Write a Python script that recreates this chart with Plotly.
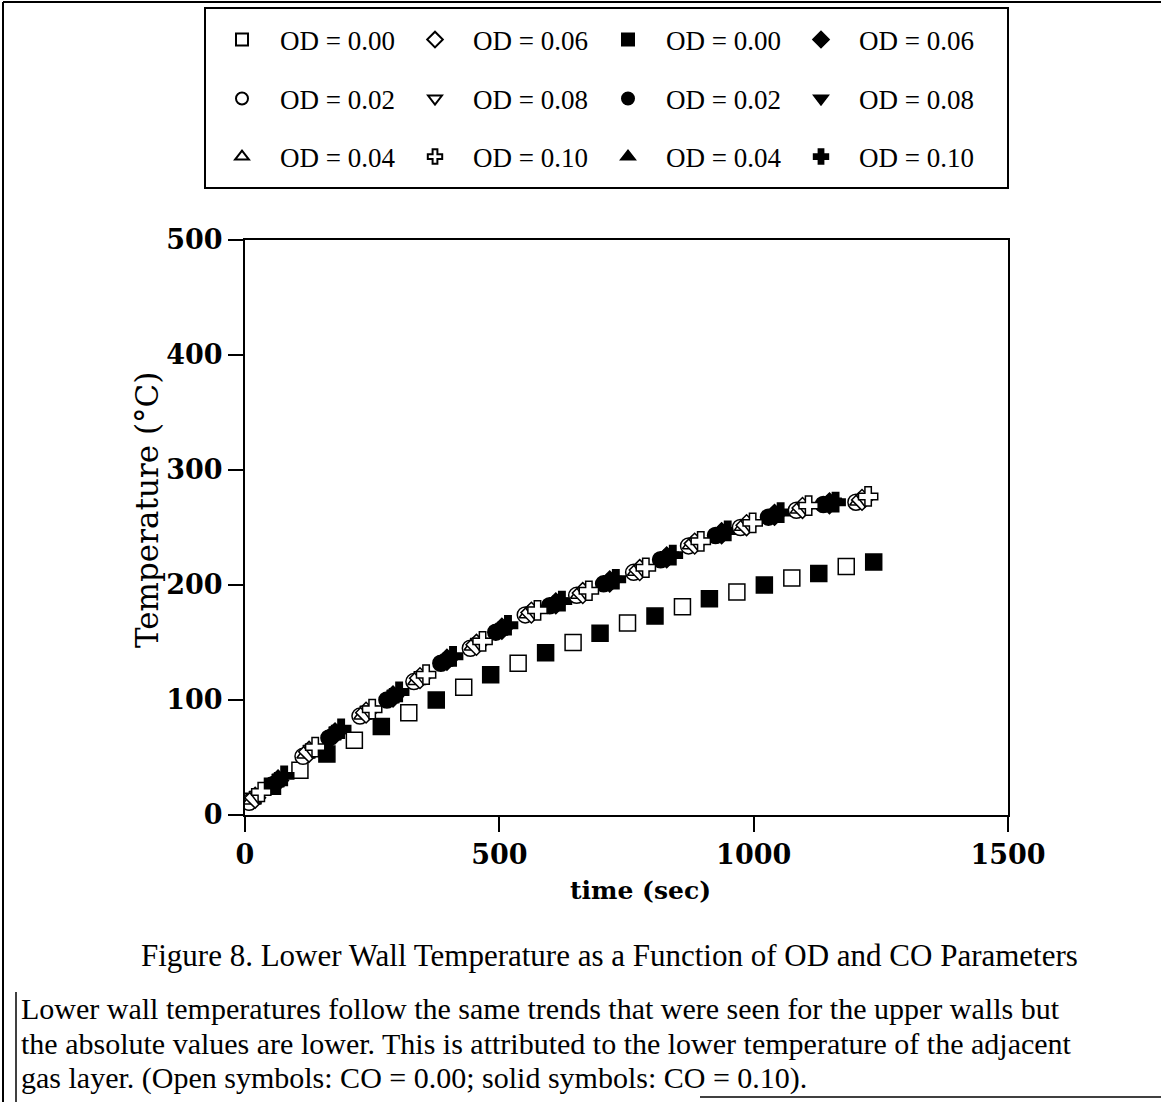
import plotly.graph_objects as go

# ---------------- data ----------------
# Lower curve: OD = 0.00
t_sq_open = [0, 108, 215, 322, 430, 537, 645, 752, 860, 967, 1075, 1182]
y_sq_open = [12, 39, 65, 89, 111, 132, 150, 167, 181, 194, 206, 216]
t_sq_solid = [54, 161, 268, 376, 483, 591, 698, 806, 913, 1021, 1128, 1236]
y_sq_solid = [25, 53, 77, 100, 122, 141, 158, 173, 188, 200, 210, 220]

# Upper curve, open symbols (CO = 0.00)
t_circ_open = [8, 114, 226, 332, 443, 551, 652, 764, 872, 974, 1084, 1201]
y_circ_open = [11, 51, 86, 116, 145, 174, 191, 211, 234, 250, 265, 272]
t_tup_open = [14, 120, 232, 338, 449, 557, 658, 770, 878, 980, 1090, 1207]
y_tup_open = [13, 53, 87, 117, 147, 175, 192, 212, 235, 251, 266, 273]
t_dia_open = [20, 126, 238, 344, 455, 563, 664, 776, 884, 986, 1096, 1213]
y_dia_open = [15, 55, 89, 119, 148, 176, 193, 213, 236, 252, 267, 274]
t_tdn_open = [26, 132, 244, 350, 461, 569, 670, 782, 890, 992, 1102, 1219]
y_tdn_open = [17, 57, 91, 121, 150, 177, 194, 214, 237, 253, 268, 275]
t_crs_open = [32, 138, 250, 356, 467, 575, 676, 788, 896, 998, 1108, 1225]
y_crs_open = [20, 59, 92, 122, 151, 178, 195, 215, 238, 254, 269, 277]

# Upper curve, solid symbols (CO = 0.10)
t_circ_solid = [53, 165, 279, 385, 493, 599, 705, 817, 925, 1029, 1137]
y_circ_solid = [26, 67, 100, 132, 159, 182, 201, 222, 243, 259, 270]
t_tup_solid = [59, 171, 285, 391, 499, 605, 711, 823, 931, 1035, 1143]
y_tup_solid = [28, 69, 101, 133, 160, 183, 202, 223, 244, 260, 270]
t_dia_solid = [65, 177, 291, 397, 505, 611, 717, 829, 937, 1041, 1149]
y_dia_solid = [30, 71, 103, 135, 162, 184, 203, 224, 245, 261, 271]
t_tdn_solid = [71, 183, 297, 403, 511, 617, 723, 835, 943, 1047, 1155]
y_tdn_solid = [32, 73, 105, 136, 163, 185, 204, 225, 246, 262, 272]
t_crs_solid = [77, 189, 303, 409, 517, 623, 729, 841, 949, 1053, 1161]
y_crs_solid = [34, 75, 107, 138, 165, 186, 205, 226, 247, 263, 272]

x_ticks = [0, 500, 1000, 1500]
y_ticks = [0, 100, 200, 300, 400, 500]

caption = "Figure 8. Lower Wall Temperature as a Function of OD and CO Parameters"
para_lines = [
    "Lower wall temperatures follow the same trends that were seen for the upper walls but",
    "the absolute values are lower. This is attributed to the lower temperature of the adjacent",
    "gas layer. (Open symbols: CO = 0.00; solid symbols: CO = 0.10).",
]

# ---------------- layout geometry (pixels) ----------------
W, H = 1161, 1102
L, R, T, B = 245, 1008, 240, 815
PW, PH = R - L, B - T


def px(x):
    return (x - L) / PW


def py(y):
    return (B - y) / PH


SERIF = "Liberation Serif"
TICKFONT = "DejaVu Serif"

fig = go.Figure()


def add(t, y, name, symbol, solid, legend, rank, size=16):
    fig.add_trace(go.Scatter(
        x=t, y=y, mode="markers", name=name,
        legend=legend, legendrank=rank,
        marker=dict(symbol=symbol, size=size,
                    color="black" if solid else "white",
                    line=dict(color="black", width=1.5)),
    ))


# lower curve
add(t_sq_open, y_sq_open, "OD = 0.00", "square", False, "legend", 1)
add(t_sq_solid, y_sq_solid, "OD = 0.00", "square", True, "legend", 3)
# upper curve solids first
add(t_circ_solid, y_circ_solid, "OD = 0.02", "circle", True, "legend2", 3)
add(t_tup_solid, y_tup_solid, "OD = 0.04", "triangle-up", True, "legend3", 3)
add(t_dia_solid, y_dia_solid, "OD = 0.06", "diamond", True, "legend", 4)
add(t_tdn_solid, y_tdn_solid, "OD = 0.08", "triangle-down", True, "legend2", 4)
add(t_crs_solid, y_crs_solid, "OD = 0.10", "cross", True, "legend3", 4)
# open on top
add(t_circ_open, y_circ_open, "OD = 0.02", "circle", False, "legend2", 1)
add(t_tup_open, y_tup_open, "OD = 0.04", "triangle-up", False, "legend3", 1)
add(t_dia_open, y_dia_open, "OD = 0.06", "diamond", False, "legend", 2)
add(t_tdn_open, y_tdn_open, "OD = 0.08", "triangle-down", False, "legend2", 2)
add(t_crs_open, y_crs_open, "OD = 0.10", "cross", False, "legend3", 2)

legend_common = dict(
    orientation="h", xref="paper", yref="paper",
    xanchor="left", yanchor="middle", x=px(204),
    itemwidth=66, itemsizing="constant",
    entrywidth=112, entrywidthmode="pixels",
    bgcolor="rgba(0,0,0,0)", borderwidth=0,
    font=dict(family=SERIF, size=27, color="black"),
    traceorder="normal", itemclick=False,
)

fig.update_layout(
    width=W, height=H,
    margin=dict(l=L, r=W - R, t=T, b=H - B, pad=0),
    paper_bgcolor="white", plot_bgcolor="white",
    showlegend=True,
    legend=dict(legend_common, y=py(40)),
    legend2=dict(legend_common, y=py(99)),
    legend3=dict(legend_common, y=py(157)),
    xaxis=dict(
        range=[0, 1500], tickvals=x_ticks, ticktext=[str(v) for v in x_ticks],
        showgrid=False, zeroline=False, showline=True, mirror=True,
        linecolor="black", linewidth=2, ticks="outside", ticklen=15,
        tickwidth=1.5, tickcolor="black",
        tickfont=dict(family=TICKFONT, size=27, color="black", weight="bold"),
    ),
    yaxis=dict(
        range=[0, 500], tickvals=y_ticks, ticktext=[str(v) for v in y_ticks],
        showgrid=False, zeroline=False, showline=True, mirror=True,
        linecolor="black", linewidth=2, ticks="outside", ticklen=15,
        tickwidth=1.5, tickcolor="black",
        tickfont=dict(family=TICKFONT, size=27, color="black", weight="bold"),
    ),
)

annotations = [
    dict(text="time (sec)", x=px(640), y=py(890), xref="paper", yref="paper",
         showarrow=False, xanchor="center", yanchor="middle",
         font=dict(family=TICKFONT, size=25, color="black", weight="bold")),
    dict(text="Temperature (°C)", x=px(147), y=py(510), xref="paper", yref="paper",
         showarrow=False, xanchor="center", yanchor="middle", textangle=-90,
         font=dict(family=TICKFONT, size=31, color="black")),
    dict(text=caption, x=px(609), y=py(955), xref="paper", yref="paper",
         showarrow=False, xanchor="center", yanchor="middle", borderpad=0,
         font=dict(family=SERIF, size=31, color="black")),
]
for i, line in enumerate(para_lines):
    annotations.append(dict(
        text=line, x=px(20), y=py(1008 + 35 * i), xref="paper", yref="paper",
        showarrow=False, xanchor="left", yanchor="middle", borderpad=0,
        font=dict(family=SERIF, size=30, color="black")))
fig.update_layout(annotations=annotations)

line_style = dict(color="black", width=2)
shapes = [
    # legend box
    dict(type="rect", xref="paper", yref="paper", x0=px(205), x1=px(1008),
         y0=py(188), y1=py(8), line=line_style, fillcolor="rgba(0,0,0,0)"),
    # page frame
    dict(type="line", xref="paper", yref="paper", x0=px(3), x1=px(3),
         y0=py(2), y1=py(1102), line=line_style),
    dict(type="line", xref="paper", yref="paper", x0=px(3), x1=px(1161),
         y0=py(2), y1=py(2), line=line_style),
    dict(type="line", xref="paper", yref="paper", x0=px(16), x1=px(16),
         y0=py(992), y1=py(1102), line=dict(color="black", width=1.5)),
    dict(type="line", xref="paper", yref="paper", x0=px(700), x1=px(1161),
         y0=py(1097), y1=py(1097), line=dict(color="black", width=1.5)),
]
fig.update_layout(shapes=shapes)

fig.write_html("out.html")
